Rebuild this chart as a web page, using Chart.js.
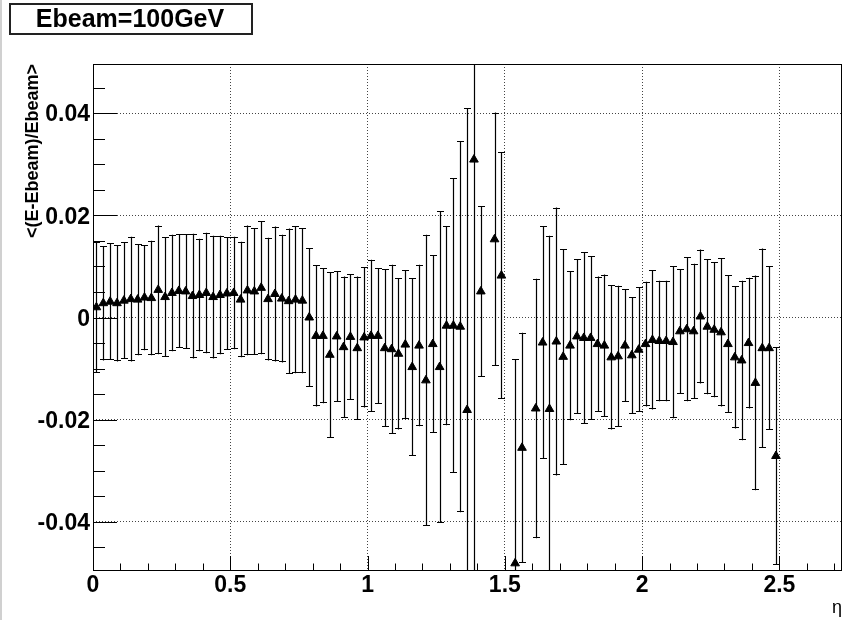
<!DOCTYPE html>
<html>
<head>
<meta charset="utf-8">
<title>Ebeam=100GeV</title>
<script src="https://cdn.jsdelivr.net/npm/chart.js@4.4.0/dist/chart.umd.min.js"></script>
<style>
    html, body { margin: 0; padding: 0; background: #fff; }
    #wrap { position: relative; width: 850px; height: 620px; }
</style>
</head>
<body>
<div id="wrap"><canvas id="profileChart" width="850" height="620"></canvas></div>
<script>
// bin centres in eta (the empty bins at 1.4375, 1.5125 and 1.5875 are left out)
const etaBins = [
    0.0125, 0.0375, 0.0625, 0.0875, 0.1125, 0.1375, 0.1625, 0.1875, 0.2125, 0.2375,
    0.2625, 0.2875, 0.3125, 0.3375, 0.3625, 0.3875, 0.4125, 0.4375, 0.4625, 0.4875,
    0.5125, 0.5375, 0.5625, 0.5875, 0.6125, 0.6375, 0.6625, 0.6875, 0.7125, 0.7375,
    0.7625, 0.7875, 0.8125, 0.8375, 0.8625, 0.8875, 0.9125, 0.9375, 0.9625, 0.9875,
    1.0125, 1.0375, 1.0625, 1.0875, 1.1125, 1.1375, 1.1625, 1.1875, 1.2125, 1.2375,
    1.2625, 1.2875, 1.3125, 1.3375, 1.3625, 1.3875, 1.4125,
    1.4625, 1.4875,
    1.5375, 1.5625,
    1.6125, 1.6375, 1.6625, 1.6875, 1.7125, 1.7375,
    1.7625, 1.7875, 1.8125, 1.8375, 1.8625, 1.8875, 1.9125, 1.9375, 1.9625, 1.9875,
    2.0125, 2.0375, 2.0625, 2.0875, 2.1125, 2.1375, 2.1625, 2.1875, 2.2125, 2.2375,
    2.2625, 2.2875, 2.3125, 2.3375, 2.3625, 2.3875, 2.4125, 2.4375, 2.4625, 2.4875
];

// <(E-Ebeam)/Ebeam> per bin
const meanResp = [
    0.0020, 0.0028, 0.0031, 0.0028, 0.0033, 0.0036, 0.0035, 0.0039, 0.0038, 0.0054,
    0.0040, 0.0048, 0.0052, 0.0051, 0.0042, 0.0044, 0.0048, 0.0040, 0.0044, 0.0047,
    0.0048, 0.0035, 0.0053, 0.0051, 0.0058, 0.0036, 0.0046, 0.0037, 0.0032, 0.0035,
    0.0033, 0.0000, -0.0036, -0.0036, -0.0073, -0.0037, -0.0058, -0.0038, -0.0060, -0.0039,
    -0.0036, -0.0036, -0.0060, -0.0062, -0.0071, -0.0053, -0.0097, -0.0055, -0.0123, -0.0052,
    -0.0097, -0.0016, -0.0016, -0.0018, -0.0181, 0.0309, 0.0051,
    0.0153, 0.0082,
    -0.0481, -0.0255,
    -0.0178, -0.0049, -0.0179, -0.0047, -0.0077, -0.0055,
    -0.0037, -0.0040, -0.0040, -0.0052, -0.0055, -0.0078, -0.0076, -0.0055, -0.0074, -0.0063,
    -0.0052, -0.0044, -0.0046, -0.0046, -0.0048, -0.0027, -0.0023, -0.0027, 0.0002, -0.0018,
    -0.0024, -0.0029, -0.0052, -0.0078, -0.0084, -0.0050, -0.0128, -0.0060, -0.0060, -0.0271
];

// half length of the error bar per bin
const meanErr = [
    0.0128, 0.0112, 0.0114, 0.0114, 0.0114, 0.0122, 0.0109, 0.0103, 0.0112, 0.0126,
    0.0117, 0.0114, 0.0111, 0.0112, 0.0122, 0.0110, 0.0118, 0.0120, 0.0116, 0.0110,
    0.0110, 0.0113, 0.0127, 0.0124, 0.0130, 0.0120, 0.0132, 0.0125, 0.0142, 0.0144,
    0.0142, 0.0136, 0.0138, 0.0132, 0.0162, 0.0128, 0.0138, 0.0123, 0.0140, 0.0137,
    0.0149, 0.0133, 0.0154, 0.0165, 0.0148, 0.0146, 0.0174, 0.0158, 0.0285, 0.0174,
    0.0305, 0.0195, 0.0288, 0.0363, 0.0591, 0.0900, 0.0167,
    0.0248, 0.0241,
    0.0400, 0.0225,
    0.0254, 0.0228, 0.0339, 0.0262, 0.0211, 0.0146,
    0.0151, 0.0168, 0.0160, 0.0132, 0.0139, 0.0141, 0.0138, 0.0110, 0.0114, 0.0122,
    0.0122, 0.0136, 0.0118, 0.0118, 0.0149, 0.0122, 0.0141, 0.0132, 0.0131, 0.0132,
    0.0132, 0.0145, 0.0135, 0.0139, 0.0156, 0.0128, 0.0210, 0.0195, 0.0160, 0.0213
];

const xTicks = [0, 0.5, 1, 1.5, 2, 2.5];
const yTicks = [-0.04, -0.02, 0, 0.02, 0.04];
const xRange = [0, 2.728];
const yRange = [-0.0496, 0.0496];

const plotTitle = 'Ebeam=100GeV';
const yTitle = '<(E-Ebeam)/Ebeam>';
const xTitle = 'η';

const FONT = "'Liberation Sans', Arial, Helvetica, sans-serif";

const points = etaBins.map((x, i) => ({ x: x, y: meanResp[i], err: meanErr[i] }));

// ROOT look: frame, inside ticks, error bars, title box
const rootStyle = {
    id: 'rootStyle',
    beforeDraw(chart) {
        const ctx = chart.ctx;
        ctx.save();
        ctx.fillStyle = '#fff';
        ctx.fillRect(0, 0, chart.width, chart.height);
        ctx.fillStyle = '#d0d0d0';
        ctx.fillRect(0, 0, 2, chart.height);
        ctx.restore();
    },
    beforeDatasetsDraw(chart) {
        const { ctx, chartArea: a, scales: { x, y } } = chart;
        ctx.save();
        ctx.strokeStyle = '#000';
        ctx.lineWidth = 1.2;
        points.forEach(p => {
            const px = Math.round(x.getPixelForValue(p.x)) + 0.5;
            const top = y.getPixelForValue(p.y + p.err);
            const bot = y.getPixelForValue(p.y - p.err);
            ctx.beginPath();
            ctx.moveTo(px, Math.max(top, a.top));
            ctx.lineTo(px, Math.min(bot, a.bottom));
            if (top >= a.top) {
                const ty = Math.round(top) + 0.5;
                ctx.moveTo(px - 3.5, ty);
                ctx.lineTo(px + 3.5, ty);
            }
            if (bot <= a.bottom) {
                const by = Math.round(bot) - 0.5;
                ctx.moveTo(px - 3.5, by);
                ctx.lineTo(px + 3.5, by);
            }
            ctx.stroke();
        });
        ctx.restore();
    },
    afterDatasetsDraw(chart) {
        const { ctx, chartArea: a, scales: { x, y } } = chart;
        ctx.save();
        ctx.strokeStyle = '#000';
        ctx.lineWidth = 1;

        // frame
        ctx.strokeRect(a.left + 0.5, a.top + 0.5, a.right - a.left - 1, a.bottom - a.top - 1);

        // y ticks every 0.005, long ones every 0.02
        ctx.beginPath();
        for (let k = -9; k <= 9; k++) {
            const py = Math.round(y.getPixelForValue(k * 0.005)) + 0.5;
            const len = k % 4 === 0 ? 24 : 12;
            ctx.moveTo(a.left, py);
            ctx.lineTo(a.left + len, py);
        }
        // x ticks every 0.1, long ones every 0.5
        for (let k = 1; k <= 27; k++) {
            const px = Math.round(x.getPixelForValue(k * 0.1)) + 0.5;
            const len = k % 5 === 0 ? 15 : 7.5;
            ctx.moveTo(px, a.bottom);
            ctx.lineTo(px, a.bottom - len);
        }
        ctx.stroke();

        // title box
        ctx.lineWidth = 2;
        ctx.strokeStyle = '#222';
        ctx.strokeRect(10, 4, 242, 30);
        ctx.fillStyle = '#000';
        ctx.font = 'bold 25px ' + FONT;
        ctx.textAlign = 'center';
        ctx.textBaseline = 'middle';
        ctx.fillText(plotTitle, 130, 20);
        ctx.restore();
    }
};

new Chart(document.getElementById('profileChart'), {
    type: 'scatter',
    data: {
        datasets: [{
            data: points,
            pointStyle: 'triangle',
            pointRadius: 5,
            backgroundColor: '#000',
            borderColor: '#000',
            borderWidth: 1,
            showLine: false
        }]
    },
    options: {
        responsive: false,
        animation: false,
        devicePixelRatio: 1,
        events: [],
        layout: { padding: { left: 0, right: 8, top: 64, bottom: 0 } },
        plugins: {
            legend: { display: false },
            tooltip: { enabled: false }
        },
        scales: {
            x: {
                type: 'linear',
                min: xRange[0],
                max: xRange[1],
                afterBuildTicks: s => { s.ticks = xTicks.map(v => ({ value: v })); },
                afterFit: s => { s.height = 49; },
                grid: { color: '#444', drawTicks: false },
                border: { display: false, dash: [1, 2] },
                ticks: {
                    color: '#000',
                    padding: 1,
                    maxRotation: 0,
                    autoSkip: false,
                    font: { family: FONT, size: 23, weight: 'bold' },
                    callback: v => String(v)
                },
                title: {
                    display: true,
                    text: xTitle,
                    align: 'end',
                    color: '#000',
                    padding: { top: 0, bottom: 1 },
                    font: { family: FONT, size: 18 }
                }
            },
            y: {
                type: 'linear',
                min: yRange[0],
                max: yRange[1],
                afterBuildTicks: s => { s.ticks = yTicks.map(v => ({ value: v })); },
                afterFit: s => { s.width = 93; },
                grid: { color: '#444', drawTicks: false },
                border: { display: false, dash: [1, 2] },
                ticks: {
                    color: '#000',
                    padding: 3,
                    labelOffset: 2,
                    font: { family: FONT, size: 23, weight: 'bold' },
                    callback: v => v === 0 ? '0' : v.toFixed(2)
                },
                title: {
                    display: true,
                    text: yTitle,
                    align: 'end',
                    color: '#000',
                    padding: { top: 22, bottom: 0 },
                    font: { family: FONT, size: 18, weight: 'bold' }
                }
            }
        }
    },
    plugins: [rootStyle]
});
</script>
</body>
</html>
